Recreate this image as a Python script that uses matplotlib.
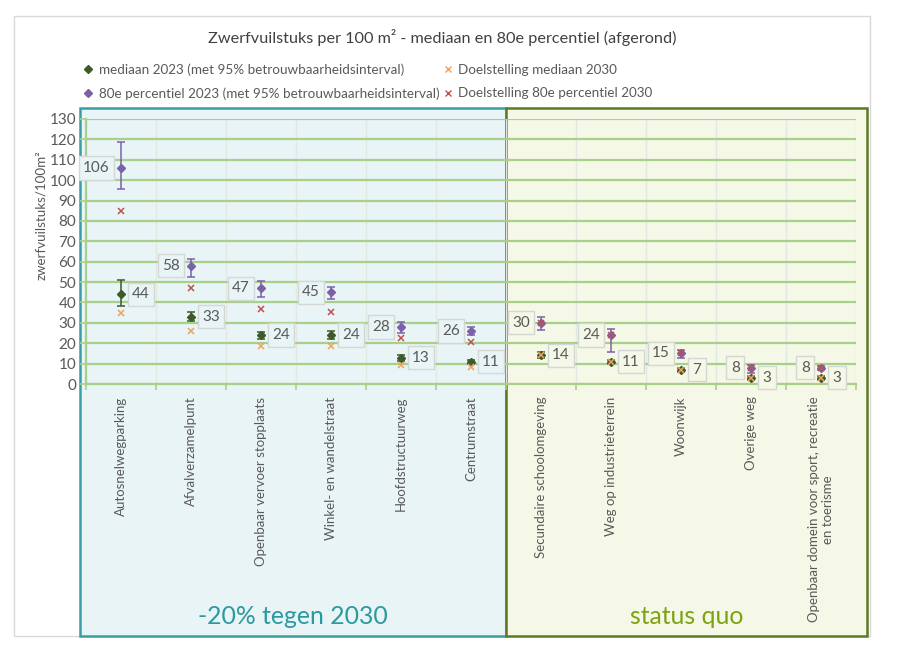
import matplotlib
matplotlib.use("Agg")
import matplotlib.pyplot as plt
import matplotlib.transforms as mtransforms
from matplotlib.patches import Rectangle
from matplotlib.lines import Line2D
import numpy as np

plt.rcParams['font.family'] = ['Lato', 'DejaVu Sans']

# categories, split in two groups
cats_reduce = ['Autosnelwegparking', 'Afvalverzamelpunt', 'Openbaar vervoer stopplaats',
               'Winkel- en wandelstraat', 'Hoofdstructuurweg', 'Centrumstraat']
cats_quo = ['Secundaire schoolomgeving', 'Weg op industrieterrein', 'Woonwijk',
            'Overige weg', 'Openbaar domein voor sport, recreatie\nen toerisme']
group_labels = ['-20% tegen 2030', 'status quo']

median_2023 = [44, 33, 24, 24, 13, 11, 14, 11, 7, 3, 3]
median_lo = [38.2, 31.0, 22.2, 22.2, 11.4, 10.0, 13.0, 10.0, 6.0, 2.0, 2.0]
median_hi = [51.0, 35.3, 25.5, 26.0, 14.2, 12.0, 15.5, 12.0, 8.0, 4.0, 4.0]

p80_2023 = [106, 58, 47, 45, 28, 26, 30, 24, 15, 8, 8]
p80_lo = [95.6, 52.3, 42.5, 41.5, 24.8, 24.0, 26.5, 15.8, 12.8, 5.5, 7.0]
p80_hi = [118.8, 61.5, 50.7, 47.8, 30.4, 27.8, 32.8, 27.2, 16.8, 9.4, 9.0]

target_median = [35, 26, 18.5, 18.5, 9.5, 8.5, 14, 11, 7, 3, 3]
target_p80 = [85, 47, 37, 35.5, 22.6, 20.8, 30, 24, 15, 8, 8]

yticks = list(range(0, 131, 10))

# styles
C_MED = '#3d5a2a'
C_P80 = '#7b62a8'
C_TMED = '#f0a060'
C_TP80 = '#c0504d'
C_GRID = '#a8d08a'
C_TEXT = '#595959'
C_TEAL_FACE, C_TEAL_EDGE, C_TEAL_TXT = '#e8f4f5', '#3a9ea5', '#2a9aa0'
C_OLIVE_FACE, C_OLIVE_EDGE, C_OLIVE_TXT = '#f5f8e6', '#5b7a23', '#7da313'


def main():
    cats = cats_reduce + cats_quo
    x = np.arange(len(cats))

    fig = plt.figure(figsize=(9.03, 6.56), dpi=100)
    W, H = 903, 656
    ax = fig.add_axes([86 / W, 1 - 384 / H, 770 / W, 265 / H])
    ax.patch.set_alpha(0)

    # outer light gray chart frame
    frame = Rectangle((14 / W, 1 - 636 / H), (870 - 14) / W, (636 - 16) / H,
                      transform=fig.transFigure, fill=False, edgecolor='#d9d9d9',
                      lw=1, zorder=-20)
    fig.add_artist(frame)

    # group panels (x in data, y in figure coordinates)
    trans = mtransforms.blended_transform_factory(ax.transData, fig.transFigure)
    split = len(cats_reduce) - 0.5
    left_edge = -0.586
    right_edge = len(cats) - 0.5 + 0.157
    p_bot, p_top = 1 - 636 / H, 1 - 108 / H
    panels = [(left_edge, split, C_TEAL_FACE, C_TEAL_EDGE, C_TEAL_TXT),
              (split, right_edge, C_OLIVE_FACE, C_OLIVE_EDGE, C_OLIVE_TXT)]
    for (x0, x1, fc, ec, tc), lab in zip(panels, group_labels):
        rect = Rectangle((x0, p_bot), x1 - x0, p_top - p_bot, transform=trans,
                         facecolor=fc, edgecolor=ec, lw=1.8, zorder=-10, clip_on=False)
        fig.add_artist(rect)
        ax.text((x0 + x1) / 2, 1 - 616 / H, lab, transform=trans, ha='center',
                va='center', fontsize=17.8, color=tc)

    # error bars + markers
    med = np.array(median_2023, dtype=float)
    p80 = np.array(p80_2023, dtype=float)
    ax.errorbar(x, med, yerr=[med - np.array(median_lo), np.array(median_hi) - med],
                fmt='D', color=C_MED, ms=4.5, capsize=3, elinewidth=1.1, capthick=1.1,
                zorder=3)
    ax.errorbar(x, p80, yerr=[p80 - np.array(p80_lo), np.array(p80_hi) - p80],
                fmt='D', color=C_P80, ms=4.5, capsize=3, elinewidth=1.1, capthick=1.1,
                zorder=3)
    ax.plot(x, target_median, 'x', color=C_TMED, ms=4.5, mew=1.1, zorder=4)
    ax.plot(x, target_p80, 'x', color=C_TP80, ms=4.5, mew=1.1, zorder=4)

    # data labels
    for i in x:
        face = C_TEAL_FACE if i < len(cats_reduce) else C_OLIVE_FACE
        box = dict(boxstyle='square,pad=0.3', fc=face, ec='#d4d8d4', lw=1)
        ax.annotate(f'{p80_2023[i]}', (i, p80_2023[i]), xytext=(-8, 0),
                    textcoords='offset points', ha='right', va='center',
                    fontsize=11, color=C_TEXT, bbox=box, zorder=5)
        ax.annotate(f'{median_2023[i]}', (i, median_2023[i]), xytext=(8, 0),
                    textcoords='offset points', ha='left', va='center',
                    fontsize=11, color=C_TEXT, bbox=box, zorder=5)

    # axes styling
    ax.set_xlim(-0.5, len(cats) - 0.5)
    ax.set_ylim(0, 130)
    ax.set_yticks(yticks)
    ax.set_xticks(x)
    ax.set_xticklabels(cats, rotation=90, va='top', ha='center',
                       multialignment='center')
    ax.set_xticks(np.arange(len(cats) + 1) - 0.5, minor=True)
    ax.tick_params(axis='x', which='major', length=0, pad=9, labelsize=9.5,
                   labelcolor=C_TEXT)
    ax.tick_params(axis='x', which='minor', length=4, color=C_GRID, width=1.2)
    ax.tick_params(axis='y', length=4, color=C_GRID, width=1.2, labelsize=11,
                   labelcolor=C_TEXT, pad=3)
    ax.grid(axis='y', which='major', color=C_GRID, lw=1.6, zorder=0)
    ax.grid(axis='x', which='minor', color='#e2e8e2', lw=1, zorder=0)
    ax.set_axisbelow(True)
    for side in ['top', 'right']:
        ax.spines[side].set_visible(False)
    for side in ['left', 'bottom']:
        ax.spines[side].set_color(C_GRID)
        ax.spines[side].set_linewidth(1.6)

    ax.set_ylabel('zwerfvuilstuks/100m²', fontsize=9.6, color=C_TEXT)
    ax.yaxis.set_label_coords(-0.0506, 0.638)

    fig.text(442 / W, 1 - 38 / H,
             'Zwerfvuilstuks per 100 m² - mediaan en 80e percentiel (afgerond)',
             ha='center', va='center', fontsize=11.7, color='#404040')

    handles = [
        Line2D([], [], ls='', marker='D', color=C_MED, ms=4),
        Line2D([], [], ls='', marker='D', color=C_P80, ms=4),
        Line2D([], [], ls='', marker='x', color=C_TMED, ms=5, mew=1),
        Line2D([], [], ls='', marker='x', color=C_TP80, ms=5, mew=1),
    ]
    labels = ['mediaan 2023 (met 95% betrouwbaarheidsinterval)',
              '80e percentiel 2023 (met 95% betrouwbaarheidsinterval)',
              'Doelstelling mediaan 2030',
              'Doelstelling 80e percentiel 2030']
    fig.legend(handles, labels, ncol=2, loc='center left',
               bbox_to_anchor=(72 / W, 1 - 81.5 / H), frameon=False,
               fontsize=9.7, handlelength=0.6, handletextpad=0.5,
               columnspacing=0.3, labelspacing=0.85, labelcolor=C_TEXT)

    fig.savefig('out.png', dpi=100)


if __name__ == '__main__':
    main()
